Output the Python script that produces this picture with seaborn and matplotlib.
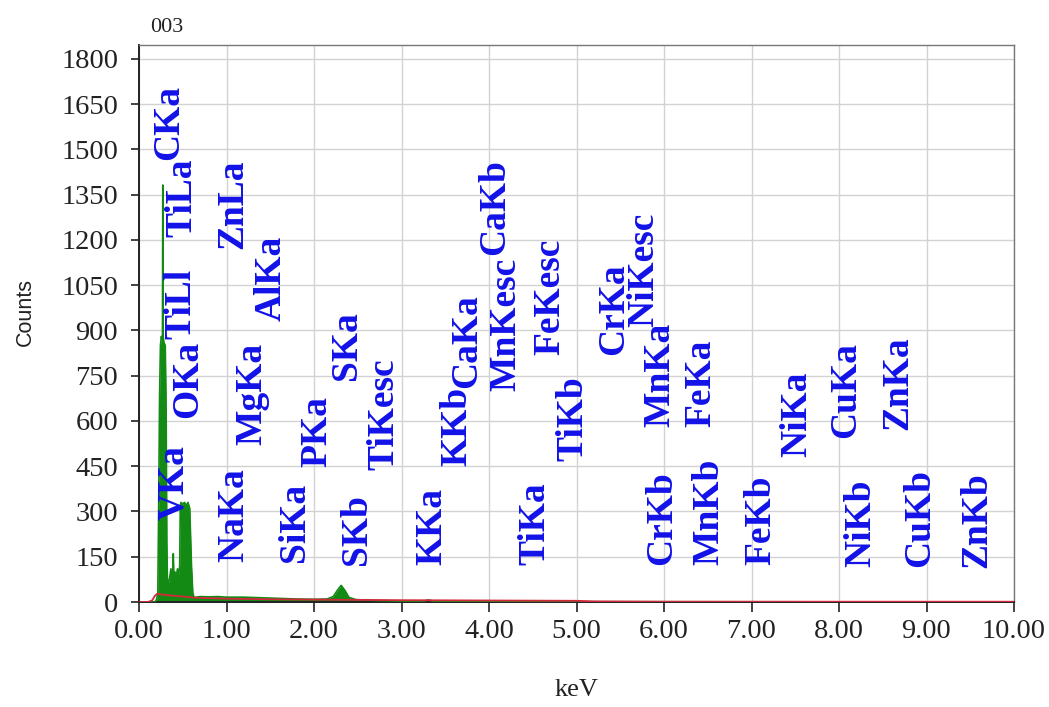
import matplotlib
matplotlib.use("Agg")
import matplotlib.pyplot as plt
import seaborn as sns
import pandas as pd

# EDS spectrum (green) and fitted background (red)
energy_kev = [0.00, 0.18, 0.20, 0.215, 0.225, 0.235, 0.245, 0.255, 0.265, 0.268, 0.272, 0.276,
              0.285, 0.30, 0.31, 0.318, 0.325, 0.335, 0.35, 0.365, 0.375, 0.385, 0.392, 0.398,
              0.41, 0.425, 0.44, 0.455, 0.465, 0.472, 0.48, 0.50, 0.52, 0.54, 0.56, 0.58, 0.60,
              0.615, 0.63, 0.70, 0.80, 0.90, 1.00, 1.20, 1.40, 1.60, 1.80, 2.00, 2.15, 2.22,
              2.27, 2.31, 2.35, 2.40, 2.48, 2.70, 3.00, 3.25, 3.31, 3.36, 3.70, 4.50, 6.00, 10.00]
counts = [0, 0, 8, 30, 320, 680, 850, 880, 870, 875, 1382, 880,
          860, 850, 640, 200, 70, 60, 80, 110, 60, 100, 160, 90,
          100, 85, 110, 90, 120, 320, 330, 325, 330, 320, 330, 310, 120,
          30, 15, 18, 17, 18, 16, 16, 14, 12, 10, 9, 10, 18,
          40, 55, 40, 15, 8, 5, 3, 3, 7, 3, 2, 1, 1, 0]

bg_kev = [0.00, 0.10, 0.15, 0.18, 0.21, 0.25, 0.35, 0.50, 0.65, 1.00, 1.50, 2.00,
          2.50, 3.00, 4.00, 5.00, 5.20, 6.00, 10.00]
bg_counts = [0, 0, 5, 20, 28, 25, 22, 18, 14, 11, 9, 8,
             7, 6, 5, 4, 2, 1, 1]

# Line identification markers: name, energy position, baseline count of the text
line_names = ["CKa", "TiLa", "TiLl", "ZnLa", "AlKa", "OKa", "MgKa", "VKa", "NaKa", "SiKa",
              "PKa", "SKa", "SKb", "TiKesc", "KKa", "KKb", "CaKa", "CaKb", "MnKesc",
              "FeKesc", "TiKb", "TiKa", "CrKa", "NiKesc", "MnKa", "CrKb", "FeKa", "MnKb",
              "FeKb", "NiKa", "CuKa", "NiKb", "ZnKa", "CuKb", "ZnKb"]
line_kev = [0.34, 0.49, 0.48, 1.07, 1.51, 0.56, 1.29, 0.40, 1.08, 1.78,
            2.03, 2.37, 2.48, 2.80, 3.35, 3.63, 3.74, 4.06, 4.19,
            4.70, 4.96, 4.53, 5.42, 5.77, 5.95, 5.97, 6.42, 6.51,
            7.11, 7.52, 8.08, 8.25, 8.67, 8.92, 9.58]
line_base = [1465, 1210, 870, 1170, 930, 610, 520, 272, 133, 133,
             447, 736, 123, 437, 124, 450, 710, 1150, 700,
             819, 466, 124, 819, 910, 580, 124, 580, 124,
             124, 481, 545, 116, 570, 116, 112]

x_ticks = [0, 1, 2, 3, 4, 5, 6, 7, 8, 9, 10]
x_tick_labels = ["0.00", "1.00", "2.00", "3.00", "4.00", "5.00", "6.00", "7.00", "8.00", "9.00", "10.00"]
y_ticks = [0, 150, 300, 450, 600, 750, 900, 1050, 1200, 1350, 1500, 1650, 1800]

sns.set_theme(style="whitegrid")
plt.rcParams["font.family"] = ["Liberation Serif", "DejaVu Serif"]

spectrum = pd.DataFrame({"keV": energy_kev, "Counts": counts})
background = pd.DataFrame({"keV": bg_kev, "Counts": bg_counts})

fig = plt.figure(figsize=(10.49, 7.07), dpi=100)
fig.patch.set_facecolor("white")
ax = fig.add_axes([139 / 1049, 1 - 602 / 707, 875 / 1049, 557 / 707])
ax.set_facecolor("white")

green = "#138a13"
ax.fill_between(spectrum["keV"], spectrum["Counts"], 0, color=green, lw=0, zorder=2)
sns.lineplot(data=spectrum, x="keV", y="Counts", color=green, lw=1.2, sort=False,
             estimator=None, ax=ax, zorder=3)
sns.lineplot(data=background, x="keV", y="Counts", color="#d4283c", lw=1.3, sort=False,
             estimator=None, ax=ax, zorder=4)

for name, xk, yb in zip(line_names, line_kev, line_base):
    ax.text(xk, yb, name, rotation=90, ha="center", va="bottom", color="#1212e8",
            fontsize=27, fontweight="bold", family=["Liberation Serif"], zorder=5)

ax.set_xlim(0, 10)
ax.set_ylim(0, 1846)
ax.set_xticks(x_ticks)
ax.set_xticklabels(x_tick_labels)
ax.set_yticks(y_ticks)
ax.grid(True, color="#d2d2d2", lw=1.0)
ax.tick_params(axis="x", direction="out", length=7, width=1.2, color="#222222",
               labelsize=20.5, pad=5, labelcolor="#222222", bottom=True)
ax.tick_params(axis="y", direction="out", length=6, width=1.2, color="#222222",
               labelsize=20.5, pad=9, labelcolor="#222222", left=True)

for side in ["left", "bottom"]:
    ax.spines[side].set_color("#222222")
    ax.spines[side].set_linewidth(1.4)
for side in ["top", "right"]:
    ax.spines[side].set_color("#777777")
    ax.spines[side].set_linewidth(1.0)

ax.set_xlabel("keV", fontsize=19, color="#222222")
ax.xaxis.set_label_coords(0.5, -0.158)
ax.xaxis.label.set_va("center")
ax.set_ylabel("Counts", fontsize=15.5, color="#222222", family=["Liberation Sans"])
ax.yaxis.set_label_coords(-0.130, 0.52)
ax.yaxis.label.set_va("center")

fig.text(150 / 1049, 1 - 27 / 707, "003", ha="left", va="center", fontsize=16, color="#222222")

fig.savefig("out.png", dpi=100, facecolor="white")
